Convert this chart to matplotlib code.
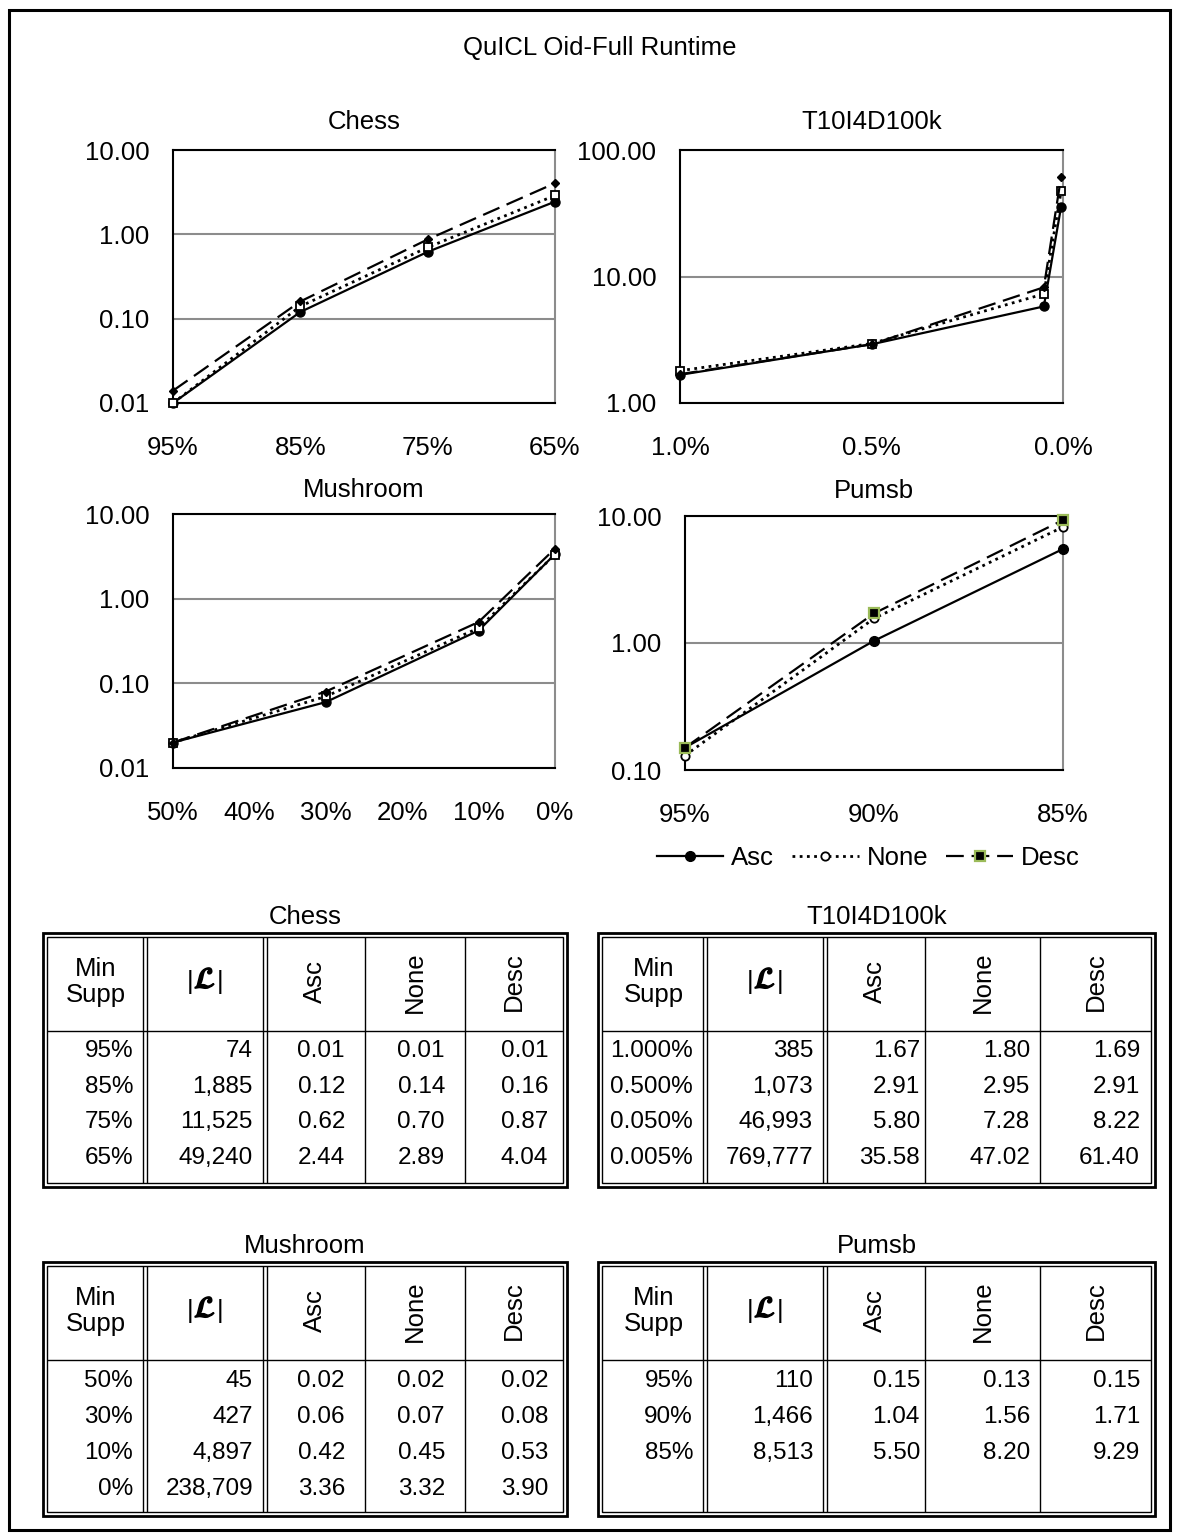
import matplotlib
matplotlib.use("Agg")
import matplotlib.pyplot as plt
import matplotlib.patheffects as pe
from matplotlib.lines import Line2D
from matplotlib.ticker import FixedLocator, FuncFormatter, NullLocator

plt.rcParams['font.family'] = ['Liberation Sans', 'DejaVu Sans']

W, H = 1179, 1540

# ---- data ----
series_names = ['Asc', 'None', 'Desc']

chess_supp = ['95%', '85%', '75%', '65%']
chess_count = [74, 1885, 11525, 49240]
chess_asc = [0.01, 0.12, 0.62, 2.44]
chess_none = [0.01, 0.14, 0.70, 2.89]
chess_desc = [0.014, 0.16, 0.87, 4.04]

t10_supp = ['1.000%', '0.500%', '0.050%', '0.005%']
t10_x = [1.0, 0.5, 0.05, 0.005]
t10_count = [385, 1073, 46993, 769777]
t10_asc = [1.67, 2.91, 5.80, 35.58]
t10_none = [1.80, 2.95, 7.28, 47.02]
t10_desc = [1.69, 2.91, 8.22, 61.40]

mush_supp = ['50%', '30%', '10%', '0%']
mush_x = [0.5, 0.3, 0.1, 0.0]
mush_count = [45, 427, 4897, 238709]
mush_asc = [0.02, 0.06, 0.42, 3.36]
mush_none = [0.02, 0.07, 0.45, 3.32]
mush_desc = [0.02, 0.08, 0.53, 3.90]

pumsb_supp = ['95%', '90%', '85%']
pumsb_count = [110, 1466, 8513]
pumsb_asc = [0.15, 1.04, 5.50]
pumsb_none = [0.13, 1.56, 8.20]
pumsb_desc = [0.15, 1.71, 9.29]

# ---- styles ----
LINES = {
    'Asc': dict(color='black', lw=1.6, ls='-'),
    'None': dict(color='black', lw=2.0, ls=(0, (1, 1.6))),
    'Desc': dict(color='black', lw=1.6, ls=(0, (8, 3.5))),
}
MARK_A = {  # Chess / T10 / Mushroom markers
    'Asc': dict(marker='o', ms=6.5, mfc='black', mec='black'),
    'None': dict(marker='s', ms=6, mfc='white', mec='black', mew=1.3),
    'Desc': dict(marker='D', ms=4.5, mfc='black', mec='black'),
}
MARK_B = {  # Pumsb markers
    'Asc': dict(marker='o', ms=7, mfc='black', mec='black'),
    'None': dict(marker='o', ms=6, mfc='white', mec='black', mew=1.3),
    'Desc': dict(marker='s', ms=7, mfc='black', mec='#9bbb59', mew=1.6),
}

TICK_FS = 18.5
TABLE_FS = 17.5


def px_rect(x0, y0, x1, y1):
    return [x0 / W, 1 - y1 / H, (x1 - x0) / W, (y1 - y0) / H]


fig = plt.figure(figsize=(W / 100, H / 100), dpi=100)
canvas = fig.add_axes([0, 0, 1, 1])
canvas.set_xlim(0, W)
canvas.set_ylim(H, 0)
canvas.axis('off')

# outer frame and main title
canvas.add_patch(plt.Rectangle((9, 10), 1161, 1520, fill=False, lw=2.2, ec='black'))
canvas.text(600, 48, 'QuICL Oid-Full Runtime', ha='center', va='center', fontsize=TICK_FS)


def chart(rect, title, xs, values, ylim, yticks, xlim, xticks, xlabels, marks, title_pad=15):
    ax = fig.add_axes(px_rect(*rect))
    for name, ys in zip(series_names, values):
        ax.plot(xs, ys, **LINES[name], **marks[name], clip_on=False, zorder=3)
    ax.set_yscale('log')
    ax.set_ylim(*ylim)
    ax.set_xlim(*xlim)
    ax.yaxis.set_major_locator(FixedLocator(yticks))
    ax.yaxis.set_minor_locator(NullLocator())
    ax.yaxis.set_major_formatter(FuncFormatter(lambda v, p: f'{v:.2f}'))
    ax.set_xticks(xticks)
    ax.set_xticklabels(xlabels)
    ax.tick_params(length=0, labelsize=TICK_FS)
    ax.tick_params(axis='y', pad=17)
    ax.tick_params(axis='x', pad=24)
    ax.grid(True, axis='y', color='#8c8c8c', lw=1.5)
    ax.set_axisbelow(True)
    for side in ['left', 'top', 'bottom']:
        ax.spines[side].set_color('black')
        ax.spines[side].set_linewidth(1.5)
    ax.spines['right'].set_color('#8c8c8c')
    ax.spines['right'].set_linewidth(1.5)
    ax.set_title(title, fontsize=TICK_FS, pad=title_pad)
    return ax


chart((173, 150, 555, 403), 'Chess', range(len(chess_supp)),
      [chess_asc, chess_none, chess_desc], (0.01, 10), [0.01, 0.1, 1, 10],
      (0, len(chess_supp) - 1), range(len(chess_supp)), chess_supp, MARK_A)

chart((680, 150, 1063, 403), 'T10I4D100k', t10_x,
      [t10_asc, t10_none, t10_desc], (1, 100), [1, 10, 100],
      (1.0, 0.0), [1.0, 0.5, 0.0], ['1.0%', '0.5%', '0.0%'], MARK_A)

chart((173, 514, 555, 768), 'Mushroom', mush_x,
      [mush_asc, mush_none, mush_desc], (0.01, 10), [0.01, 0.1, 1, 10],
      (0.5, 0.0), [0.5, 0.4, 0.3, 0.2, 0.1, 0.0],
      ['50%', '40%', '30%', '20%', '10%', '0%'], MARK_A, title_pad=12)

chart((685, 516, 1063, 770), 'Pumsb', range(len(pumsb_supp)),
      [pumsb_asc, pumsb_none, pumsb_desc], (0.1, 10), [0.1, 1, 10],
      (0, len(pumsb_supp) - 1), range(len(pumsb_supp)), pumsb_supp, MARK_B, title_pad=13)

handles = [Line2D([], [], **LINES[n], **MARK_B[n]) for n in series_names]
fig.legend(handles, series_names, loc='center', bbox_to_anchor=(868 / W, 1 - 858 / H),
           ncol=3, frameon=False, fontsize=TICK_FS, handlelength=2.6,
           handletextpad=0.3, columnspacing=0.7)


# ---- tables ----
def vline(x, y0, y1, lw=1.0):
    canvas.plot([x, x], [y0, y1], color='black', lw=lw, solid_capstyle='butt')


def hline(y, x0, x1, lw=1.0):
    canvas.plot([x0, x1], [y, y], color='black', lw=lw, solid_capstyle='butt')


def table(title, x0, x1, cols, right_edges, y0, y1, ysep, row_y, supp, counts, vals,
          narrow_supp=False):
    canvas.text((x0 + x1) / 2, y0 - 16, title, ha='center', va='center', fontsize=TICK_FS)
    # double outer border
    canvas.add_patch(plt.Rectangle((x0, y0), x1 - x0, y1 - y0, fill=False, lw=2.0, ec='black'))
    canvas.add_patch(plt.Rectangle((x0 + 4, y0 + 4), x1 - x0 - 8, y1 - y0 - 8,
                                   fill=False, lw=1.0, ec='black'))
    # column separators: double after the first two columns
    for i, cx in enumerate(cols):
        if i < 2:
            vline(cx - 2, y0 + 4, y1 - 4)
            vline(cx + 2, y0 + 4, y1 - 4)
        else:
            vline(cx, y0 + 4, y1 - 4)
    hline(ysep, x0 + 4, x1 - 4)

    edges = [x0 + 4] + list(cols) + [x1 - 4]
    yh = (y0 + ysep) / 2
    canvas.text((edges[0] + edges[1]) / 2, yh, 'Min\nSupp', ha='center', va='center',
                fontsize=TICK_FS, linespacing=1.15)
    # |L| header: thin bars around a bold script L
    xc = (edges[1] + edges[2]) / 2
    canvas.text(xc, yh - 2, r'$\mathcal{L}$', ha='center', va='center',
                fontsize=TICK_FS + 3, math_fontfamily='stix',
                path_effects=[pe.withStroke(linewidth=1.2, foreground='black')])
    for dx in (-15, 15):
        canvas.text(xc + dx, yh, '|', ha='center', va='center', fontsize=TICK_FS)
    for j, name in enumerate(series_names):
        canvas.text((edges[j + 2] + edges[j + 3]) / 2, yh, name, ha='center', va='center',
                    fontsize=TICK_FS, rotation=90)

    for r, y in enumerate(row_y[:len(supp)]):
        cells = [supp[r], f'{counts[r]:,}'] + [f'{v[r]:.2f}' for v in vals]
        for c, txt in enumerate(cells):
            narrow = (c == 0 and narrow_supp) or len(txt) > 6
            fam = ['Liberation Sans Narrow', 'Liberation Sans'] if narrow else ['Liberation Sans']
            canvas.text(right_edges[c], y, txt, ha='right', va='center',
                        fontsize=TABLE_FS, family=fam)


rows_top = [1051, 1087, 1122, 1158]
rows_bot = [1381, 1417, 1453, 1489]
left_cols = [145, 265, 365, 465]
right_cols = [705, 825, 925, 1040]
left_right_edges = [133, 253, 345, 445, 548]
right_right_edges = [693, 813, 920, 1030, 1140]

table('Chess', 43, 567, left_cols, left_right_edges, 933, 1187, 1031, rows_top,
      chess_supp, chess_count, [chess_asc, chess_none, chess_desc])
table('T10I4D100k', 598, 1155, right_cols, right_right_edges, 933, 1187, 1031, rows_top,
      t10_supp, t10_count, [t10_asc, t10_none, t10_desc], narrow_supp=True)
table('Mushroom', 43, 567, left_cols, left_right_edges, 1262, 1516, 1360, rows_bot,
      mush_supp, mush_count, [mush_asc, mush_none, mush_desc])
table('Pumsb', 598, 1155, right_cols, right_right_edges, 1262, 1516, 1360, rows_bot,
      pumsb_supp, pumsb_count, [pumsb_asc, pumsb_none, pumsb_desc])

fig.savefig('out.png', dpi=100)
